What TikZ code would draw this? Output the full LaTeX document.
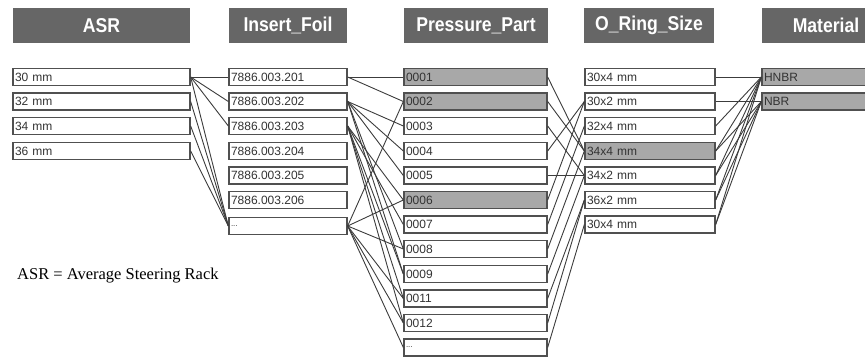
\documentclass[tikz,border=0pt]{standalone}
\usepackage{fontspec}
\setmainfont{Liberation Serif}
\newfontfamily\cellfont{Liberation Sans}
\newfontfamily\headfont[FakeStretch=0.88]{Liberation Sans}
\definecolor{headgray}{HTML}{666666}
\definecolor{hitgray}{HTML}{A8A8A8}
\definecolor{boxline}{HTML}{505050}
\definecolor{linegray}{HTML}{3C3C3C}
\definecolor{celltext}{HTML}{333333}

\begin{document}
\begin{tikzpicture}[x=1pt,y=-1pt,
      head/.style={fill=headgray,text=white,minimum height=35pt,inner sep=0pt,%
        minimum width=#1,font=\headfont\bfseries\fontsize{20}{20}\selectfont},%
      cell/.style={draw=boxline,line width=1.3pt,fill=white,minimum height=17pt,%
        inner xsep=2pt,inner ysep=0pt,text width=#1,align=left,text=celltext,%
        font=\cellfont\fontsize{12}{12}\selectfont},%
      hit/.style={fill=hitgray},%
      link/.style={draw=linegray,line width=0.9pt}%
      ]
      \useasboundingbox (0,0) rectangle (865,357);%
      \clip (0,0) rectangle (865,357);%
      %% column heads
      \node[head=177pt] (asr) at (101.5,25.5) {ASR};%
      \node[head=118pt] (foil) at (288,25.5) {Insert\_Foil};%
      \node[head=144pt] (press) at (476,25.5) {Pressure\_Part};%
      \node[head=130pt] (ring) at (649,25.5) {O\_Ring\_Size};%
      \node[head=128pt] (mat) at (826,25.5) {Material};%
      %% ASR
      \node[cell=173pt] (a1) at (101.5,77) {30 mm};%
      \node[cell=173pt] (a2) at (101.5,101.5) {32 mm};%
      \node[cell=173pt] (a3) at (101.5,126) {34 mm};%
      \node[cell=173pt] (a4) at (101.5,151) {36 mm};%
      %% Insert_Foil
      \node[cell=114pt] (f1) at (288,77) {7886.003.201};%
      \node[cell=114pt] (f2) at (288,101.5) {7886.003.202};%
      \node[cell=114pt] (f3) at (288,126) {7886.003.203};%
      \node[cell=114pt] (f4) at (288,151) {7886.003.204};%
      \node[cell=114pt] (f5) at (288,175.5) {7886.003.205};%
      \node[cell=114pt] (f6) at (288,200) {7886.003.206};%
      \node[cell=114pt] (f7) at (288,226) {\fontsize{8}{8}\selectfont ...};%
      %% Pressure_Part
      \node[cell=139pt,hit] (p1) at (475.5,77) {0001};%
      \node[cell=139pt,hit] (p2) at (475.5,101.5) {0002};%
      \node[cell=139pt] (p3) at (475.5,126) {0003};%
      \node[cell=139pt] (p4) at (475.5,151) {0004};%
      \node[cell=139pt] (p5) at (475.5,175.5) {0005};%
      \node[cell=139pt,hit] (p6) at (475.5,200) {0006};%
      \node[cell=139pt] (p7) at (475.5,224.5) {0007};%
      \node[cell=139pt] (p8) at (475.5,249) {0008};%
      \node[cell=139pt] (p9) at (475.5,274) {0009};%
      \node[cell=139pt] (p11) at (475.5,298.5) {0011};%
      \node[cell=139pt] (p12) at (475.5,323) {0012};%
      \node[cell=139pt] (p13) at (475.5,347.5) {\fontsize{8}{8}\selectfont ...};%
      %% O_Ring_Size
      \node[cell=126pt] (r1) at (650,77) {30x4 mm};%
      \node[cell=126pt] (r2) at (650,101.5) {30x2 mm};%
      \node[cell=126pt] (r3) at (650,126) {32x4 mm};%
      \node[cell=126pt,hit] (r4) at (650,151) {34x4 mm};%
      \node[cell=126pt] (r5) at (650,175.5) {34x2 mm};%
      \node[cell=126pt] (r6) at (650,200) {36x2 mm};%
      \node[cell=126pt] (r7) at (650,224.5) {30x4 mm};%
      %% Material
      \node[cell=124pt,hit] (m1) at (826,77) {HNBR};%
      \node[cell=124pt,hit] (m2) at (826,101.5) {NBR};%
      %% links
      \foreach \x/\y in
      {a1/f1,a1/f2,a1/f3,a1/f7,a2/f7,a3/f7,a4/f7} {%
        \draw[link] (\x.east) -- (\y.west);%
      }%
      \foreach \x/\y in
      {f1/p1,f1/p2,f2/p3,f2/p4,f2/p5,f2/p8,f2/p9,f3/p6,f3/p7,f3/p9,
        f3/p11,f3/p12,f7/p2,f7/p6,f7/p8,f7/p11,f7/p12,f7/p13} {%
        \draw[link] (\x.east) -- (\y.west);%
      }%
      \foreach \x/\y in
      {p1/r4,p2/r4,p3/r5,p4/r2,p5/r5,p6/r2,p7/r3,p8/r4,p9/r5,
        p11/r6,p12/r6,p13/r7} {%
        \draw[link] (\x.east) -- (\y.west);%
      }%
      \foreach \x/\y in
      {r1/m1,r2/m2,r3/m1,r4/m1,r4/m2,r5/m1,r5/m2,r6/m1,r6/m2,
        r7/m1,r7/m2} {%
        \draw[link] (\x.east) -- (\y.west);%
      }%
      %% note
      \node[anchor=west,inner sep=0pt,font=\fontsize{16.5}{16.5}\selectfont] (note)
      at (17,276) {ASR = Average Steering Rack};%
    \end{tikzpicture}
\end{document}
